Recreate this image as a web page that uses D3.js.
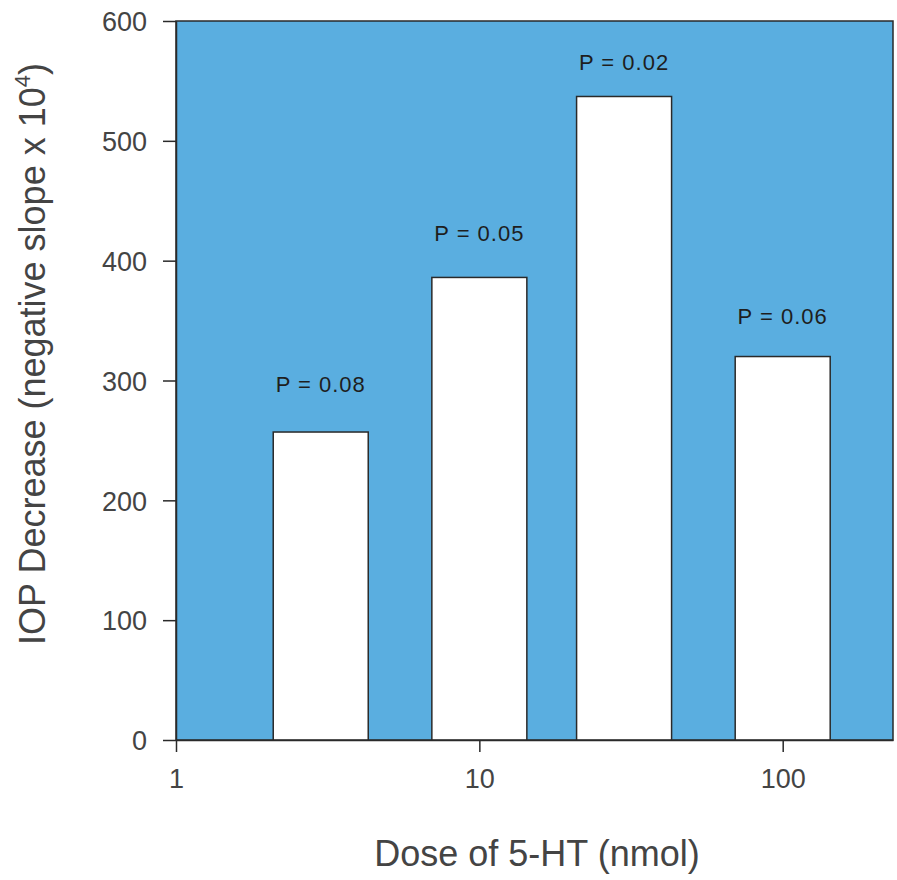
<!DOCTYPE html>
<html>
<head>
<meta charset="utf-8">
<script src="https://cdn.jsdelivr.net/npm/d3@7"></script>
<style>
  html, body { margin: 0; padding: 0; background: #fff; }
  svg { display: block; font-family: "Liberation Sans", Arial, Helvetica, sans-serif; }
</style>
</head>
<body>
<svg id="chart" width="897" height="880"></svg>
<script>
// Dose–response of IOP decrease to 5-HT
const doses = [3, 10, 30, 100];                  // nmol
const iopDecrease = [257, 386, 537, 320];        // negative slope x 10^4
const pValues = ["P = 0.08", "P = 0.05", "P = 0.02", "P = 0.06"];
const xTicks = [1, 10, 100];
const yTicks = [0, 100, 200, 300, 400, 500, 600];

// layout
const plot = { left: 176, right: 893, top: 21, bottom: 740 };
const barWidth = 95;
const labelGap = [40, 36, 26, 33];
const plotFill = "#5aaee0";
const ink = "#2a2a2a";
const textColor = "#444";

const svg = d3.select("#chart");

const x = d3.scaleLog().domain([1, 231]).range([plot.left, plot.right]);
const y = d3.scaleLinear().domain([0, 600]).range([plot.bottom, plot.top]);

// plot background
svg.append("rect")
  .attr("x", plot.left).attr("y", plot.top)
  .attr("width", plot.right - plot.left)
  .attr("height", plot.bottom - plot.top)
  .attr("fill", plotFill)
  .attr("stroke", ink).attr("stroke-width", 1.5);

// bars
svg.append("g").selectAll("rect")
  .data(doses)
  .join("rect")
  .attr("x", d => x(d) - barWidth / 2)
  .attr("y", (d, i) => y(iopDecrease[i]))
  .attr("width", barWidth)
  .attr("height", (d, i) => y(0) - y(iopDecrease[i]))
  .attr("fill", "#fff")
  .attr("stroke", ink).attr("stroke-width", 1.5);

// significance labels
svg.append("g").selectAll("text")
  .data(doses)
  .join("text")
  .attr("x", d => x(d))
  .attr("y", (d, i) => y(iopDecrease[i]) - labelGap[i])
  .attr("text-anchor", "middle")
  .attr("font-size", 22)
  .attr("letter-spacing", 1)
  .attr("fill", "#1e1e1e")
  .text((d, i) => pValues[i]);

// axes
const xAxis = d3.axisBottom(x).tickValues(xTicks).tickFormat(d3.format("d"))
  .tickSize(12).tickSizeOuter(0).tickPadding(17);
const yAxis = d3.axisLeft(y).tickValues(yTicks)
  .tickSize(13).tickSizeOuter(0).tickPadding(16);

const gx = svg.append("g").attr("transform", `translate(0,${plot.bottom})`).call(xAxis);
const gy = svg.append("g").attr("transform", `translate(${plot.left},0)`).call(yAxis);

[gx, gy].forEach(g => {
  g.select(".domain").attr("stroke", ink).attr("stroke-width", 1.5);
  g.selectAll(".tick line").attr("stroke", ink).attr("stroke-width", 1.5);
  g.selectAll(".tick text")
    .attr("font-size", 27)
    .attr("font-family", "Liberation Sans, Arial, sans-serif")
    .attr("fill", textColor);
});
gx.selectAll(".tick text").attr("dy", "0.71em");
gy.selectAll(".tick text").attr("dy", "0.36em");

// axis titles
svg.append("text")
  .attr("x", 537).attr("y", 866)
  .attr("text-anchor", "middle")
  .attr("font-size", 36)
  .attr("fill", textColor)
  .text("Dose of 5-HT (nmol)");

const yTitle = svg.append("text")
  .attr("transform", "translate(45,354) rotate(-90)")
  .attr("text-anchor", "middle")
  .attr("font-size", 36)
  .attr("fill", textColor);
yTitle.append("tspan").text("IOP Decrease (negative slope x 10");
yTitle.append("tspan").attr("font-size", 22).attr("dy", -15).text("4");
yTitle.append("tspan").attr("dy", 15).text(")");
</script>
</body>
</html>
